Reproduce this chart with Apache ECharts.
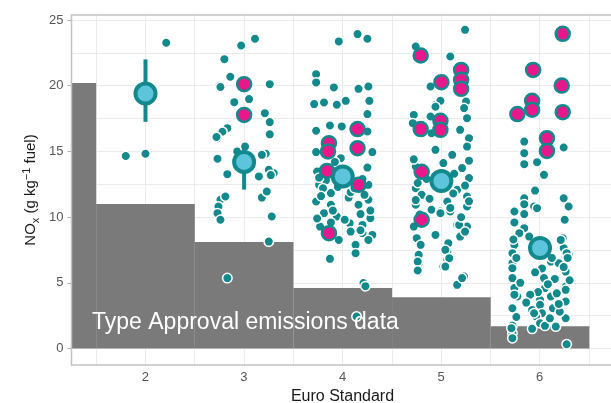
<!DOCTYPE html>
<html>
<head>
<meta charset="utf-8">
<script src="https://cdn.jsdelivr.net/npm/echarts@6/dist/echarts.min.js"></script>
<style>html,body{margin:0;padding:0;background:#fff}#c{width:611px;height:403px}</style>
</head>
<body>
<div id="c"></div>
<script>
// Euro standard categories and type-approval limit levels (g/kg fuel)
var euroStandards = [1, 2, 3, 4, 5, 6];
var typeApprovalLevels = [20.2, 11.0, 8.1, 4.6, 3.9, 1.7];
var xTickLabels = ['2', '3', '4', '5', '6'];
var yTickLabels = ['0', '5', '10', '15', '20', '25'];

// individual vehicle measurements (teal)
var tealEuro2 = [[2.21,23.27],[1.80,14.65],[2.00,14.82]];
var tealEuro3 = [[3.11,23.57],[2.97,23.06],[2.80,22.02],[2.86,20.68],[2.75,20.0],[3.26,20.12],[2.90,18.75],[3.04,18.98],[3.21,17.91],[3.26,17.23],[2.83,16.77],[2.78,16.5],[2.73,16.01],[3.26,16.3],[3.22,14.82],[2.73,14.44],[2.83,13.27],[3.30,13.35],[3.25,13.6],[2.93,15.0],[3.01,15.37],[2.76,11.32],[2.81,11.57],[2.74,10.81],[2.73,10.3],[2.76,9.8],[3.18,11.49],[3.23,11.95],[3.28,10.05],[3.25,8.14],[2.83,5.36],[3.18,14.74],[3.15,13.1],[3.27,13.2],[2.72,16.1],[2.76,19.9],[3.05,18.98]];
var tealEuro4 = [[3.96,23.37],[4.15,23.93],[4.25,23.57],[3.73,20.88],[3.73,20.25],[3.91,19.87],[4.16,19.76],[4.26,19.94],[3.71,18.6],[3.81,18.72],[3.94,18.55],[4.03,18.85],[4.27,18.85],[4.25,17.84],[3.73,16.57],[3.87,16.97],[3.99,16.9],[4.25,16.52],[3.73,14.95],[4.30,14.95],[3.98,14.49],[3.74,13.47],[4.25,13.77],[3.76,12.46],[3.88,11.83],[4.26,12.46],[3.73,11.19],[3.88,10.94],[4.06,11.49],[4.16,10.94],[4.26,11.32],[3.81,10.3],[3.94,10.05],[4.18,10.23],[4.28,9.92],[3.77,9.28],[4.07,9.54],[4.20,9.41],[4.08,8.9],[4.20,8.78],[4.30,8.65],[3.96,8.27],[4.13,7.89],[4.26,8.27],[4.13,7.26],[3.87,6.83],[4.21,4.98],[4.23,4.75],[4.14,2.44],[3.93,13.9],[3.83,12.8],[3.80,12.2],[4.08,11.9],[3.92,14.2],[4.20,12.9],[3.95,12.3],[4.10,12.6],[3.76,13.0],[3.78,11.6],[3.90,10.5],[4.22,11.7],[4.28,10.5],[4.18,9.0],[3.74,9.9],[4.02,9.8],[4.12,12.2],[3.88,9.6]];
var tealEuro5 = [[5.24,24.25],[4.74,22.98],[5.09,22.22],[4.89,19.94],[4.94,18.55],[4.99,18.85],[5.24,18.55],[5.26,17.53],[4.72,17.78],[4.71,17.15],[4.89,17.66],[4.90,16.39],[5.19,16.64],[5.28,16.01],[4.94,15.12],[5.26,15.37],[5.11,14.74],[4.74,13.85],[5.02,14.11],[5.21,13.73],[5.28,12.97],[4.74,12.2],[4.80,11.7],[5.16,12.08],[5.26,11.57],[4.74,10.94],[5.06,11.19],[4.90,10.56],[4.99,10.43],[5.09,10.43],[5.26,10.81],[4.72,9.28],[5.16,9.41],[5.26,9.28],[4.94,8.65],[5.19,8.52],[4.75,8.4],[5.07,8.02],[4.79,7.89],[5.06,7.38],[4.77,7.13],[4.77,6.5],[5.06,6.75],[4.77,5.86],[5.02,6.24],[5.23,5.48],[5.16,4.85],[5.21,5.36],[4.94,18.4],[5.25,18.8],[5.23,18.3],[5.04,7.51],[5.08,6.88],[5.04,6.24],[5.18,9.41],[5.09,10.7],[4.99,10.3],[4.76,6.62],[4.76,5.94],[4.85,12.9],[5.13,13.3],[4.76,12.6],[4.74,11.3],[4.78,10.2],[5.24,12.4],[5.28,11.2],[5.20,10.0],[5.12,11.8],[4.88,11.4],[5.24,8.9],[5.28,14.3],[4.72,14.4]];
var tealEuro6 = [[5.84,15.75],[6.24,15.3],[5.84,14.87],[5.84,14.03],[5.97,14.18],[6.04,13.22],[5.95,12.02],[5.84,11.44],[6.24,11.44],[5.84,10.99],[5.94,10.81],[6.29,10.81],[5.74,10.43],[5.84,10.23],[5.97,10.68],[5.84,9.16],[5.79,8.78],[5.89,8.52],[6.23,8.4],[5.74,7.89],[6.24,7.64],[5.72,7.26],[6.29,7.18],[5.72,6.5],[6.11,6.62],[6.19,6.5],[5.72,6.12],[6.26,5.86],[5.72,5.36],[6.04,5.36],[5.74,4.6],[6.26,4.72],[5.77,3.96],[6.00,3.7],[6.11,3.96],[6.26,3.58],[5.72,3.07],[5.92,2.94],[6.00,3.33],[6.13,3.07],[6.02,2.69],[6.26,2.31],[5.96,2.44],[5.72,1.75],[6.16,1.67],[5.92,1.5],[6.00,1.93],[5.72,1.17],[5.72,0.79],[6.27,0.33],[6.21,8.27],[6.27,7.26],[6.26,4.47],[5.94,2.69],[6.05,1.73],[5.71,1.55],[6.12,6.9],[6.05,4.6],[6.17,4.2],[5.98,4.3],[6.20,2.8],[5.74,9.6],[5.73,8.3],[5.76,6.9],[5.80,5.0],[5.74,4.1],[5.76,2.4],[6.25,9.8],[6.28,6.9],[6.24,6.2],[6.15,5.3],[6.08,4.9],[5.90,4.1],[6.02,6.1],[6.10,2.3],[5.86,3.5],[6.19,3.4],[5.95,5.8],[6.30,5.2]];

// highlighted vehicles (magenta)
var magentaPoints = [[3.00,20.12],[3.00,17.78],[4.15,16.7],[3.86,15.63],[3.85,15.0],[4.15,15.25],[3.84,13.52],[4.16,12.46],[3.86,8.78],[4.79,22.3],[5.00,20.27],[5.20,21.2],[5.20,20.45],[5.20,19.76],[4.79,16.7],[4.99,17.33],[4.99,16.64],[4.80,13.45],[4.80,9.8],[6.23,23.95],[5.93,21.2],[6.22,20.01],[5.92,18.85],[5.92,18.17],[5.77,17.84],[6.23,17.99],[6.07,16.01],[6.07,15.04]];

// group means with error bars (light blue)
var meanX = [2, 3, 4, 5, 6];
var meanY = [19.4, 14.2, 13.1, 12.75, 7.65];
var errLow = [17.25, 12.1, 12.5, 12.2, 7.1];
var errHigh = [22.0, 15.6, 13.7, 13.3, 8.2];

var TEAL = '#12898c', MAGENTA = '#e9188a', LIGHTBLUE = '#5cc5dc';

var tealAll = tealEuro2.concat(tealEuro3, tealEuro4, tealEuro5, tealEuro6);
var taData = euroStandards.map(function (s, i) { return [s, typeApprovalLevels[i]]; });
var meanData = meanX.map(function (x, i) { return [x, meanY[i]]; });
var errData = meanX.map(function (x, i) { return [x, errLow[i], errHigh[i]]; });

var chart = echarts.init(document.getElementById('c'), null, {renderer: 'canvas'});
var labelColor = '#555555';
var gridColor = '#ebebeb';

var option = {
  animation: false,
  grid: [
    {left: 71.5, right: -3, top: 15, bottom: 38, show: true, borderColor: '#c2c2c2', borderWidth: 1.5, backgroundColor: 'transparent', z: 3, containLabel: false, outerBoundsMode: 'none'},
    {left: 71.5, right: -3, top: 20, bottom: 54.4, containLabel: false, outerBoundsMode: 'none'},
    {left: 96.1, right: 22.1, top: 15, bottom: 38, containLabel: false, outerBoundsMode: 'none'}
  ],
  xAxis: [
    {gridIndex: 0, type: 'value', min: 1.25, max: 6.75, show: false},
    {gridIndex: 1, type: 'value', min: 0, max: 1, show: false},
    {gridIndex: 2, type: 'value', min: 1.5, max: 6.5, interval: 0.5,
      axisLine: {show: false}, axisTick: {show: false},
      axisLabel: {color: labelColor, fontSize: 13, fontFamily: 'Liberation Sans', margin: 6,
        formatter: function (v) { var i = xTickLabels.indexOf(String(v)); return i >= 0 ? xTickLabels[i] : ''; }},
      splitLine: {show: true, lineStyle: {color: gridColor, width: 1}},
      name: 'Euro Standard', nameLocation: 'middle', nameGap: 22,
      nameTextStyle: {color: '#1a1a1a', fontSize: 16, fontFamily: 'Liberation Sans'}
    }
  ],
  yAxis: [
    {gridIndex: 0, type: 'value', min: -1.25, max: 25.38, show: false},
    {gridIndex: 1, type: 'value', min: 0, max: 25, interval: 5,
      axisLine: {show: false},
      axisTick: {show: true, length: 4, lineStyle: {color: '#b3b3b3'}},
      axisLabel: {color: labelColor, fontSize: 13, fontFamily: 'Liberation Sans', margin: 8,
        formatter: function (v, i) { return yTickLabels[i] !== undefined ? yTickLabels[i] : ''; }},
      splitLine: {show: true, lineStyle: {color: gridColor, width: 1}},
      minorTick: {show: false, splitNumber: 2},
      minorSplitLine: {show: true, lineStyle: {color: gridColor, width: 1}}
    },
    {gridIndex: 2, type: 'value', min: 0, max: 1, show: false}
  ],
  graphic: [
    {type: 'text', x: 31, y: 190, rotation: Math.PI / 2, z: 10,
      style: {text: '{n|NO}{sub|x}{n| (g kg}{sup|−1}{n| fuel)}', align: 'center', verticalAlign: 'middle',
        rich: {
          n: {fontSize: 15, fontFamily: 'Liberation Sans', fill: '#1a1a1a', lineHeight: 20, verticalAlign: 'middle'},
          sub: {fontSize: 11, fontFamily: 'Liberation Sans', fill: '#1a1a1a', lineHeight: 20, verticalAlign: 'bottom', padding: [6, 0, 0, 0]},
          sup: {fontSize: 11, fontFamily: 'Liberation Sans', fill: '#1a1a1a', lineHeight: 20, verticalAlign: 'top', padding: [0, 0, 7, 0]}
        }}
    },
    {type: 'text', x: 92, y: 323, z: 10,
      style: {text: 'Type Approval emissions data', fill: '#ffffff', fontSize: 23, fontFamily: 'Liberation Sans', verticalAlign: 'middle'}}
  ],
  series: [
    {
      type: 'custom', xAxisIndex: 0, yAxisIndex: 0, silent: true, z: 1,
      data: taData,
      renderItem: function (params, api) {
        var s = api.value(0), lvl = api.value(1);
        var p0 = api.coord([s - 0.5, lvl]);
        var p1 = api.coord([s + 0.5, 0]);
        var cs = params.coordSys;
        var shape = echarts.graphic.clipRectByRect(
          {x: p0[0], y: p0[1], width: p1[0] - p0[0], height: p1[1] - p0[1]},
          {x: cs.x, y: cs.y, width: cs.width, height: cs.height});
        return shape && {type: 'rect', shape: shape, style: {fill: '#7a7a7a'}};
      }
    },
    {
      type: 'scatter', xAxisIndex: 0, yAxisIndex: 0, silent: true, z: 3,
      data: tealAll, symbolSize: 9.5,
      itemStyle: {color: TEAL, borderColor: '#ffffff', borderWidth: 1.5, opacity: 1}
    },
    {
      type: 'scatter', xAxisIndex: 0, yAxisIndex: 0, silent: true, z: 4,
      data: magentaPoints, symbolSize: 14,
      itemStyle: {color: MAGENTA, borderColor: TEAL, borderWidth: 2.5, opacity: 1}
    },
    {
      type: 'custom', xAxisIndex: 0, yAxisIndex: 0, silent: true, z: 5,
      data: errData,
      renderItem: function (params, api) {
        var a = api.coord([api.value(0), api.value(1)]);
        var b = api.coord([api.value(0), api.value(2)]);
        return {type: 'line', shape: {x1: a[0], y1: a[1], x2: b[0], y2: b[1]}, style: {stroke: TEAL, lineWidth: 4}};
      }
    },
    {
      type: 'scatter', xAxisIndex: 0, yAxisIndex: 0, silent: true, z: 6,
      data: meanData, symbolSize: 20,
      itemStyle: {color: LIGHTBLUE, borderColor: TEAL, borderWidth: 4, opacity: 1}
    }
  ]
};
chart.setOption(option);
</script>
</body>
</html>
